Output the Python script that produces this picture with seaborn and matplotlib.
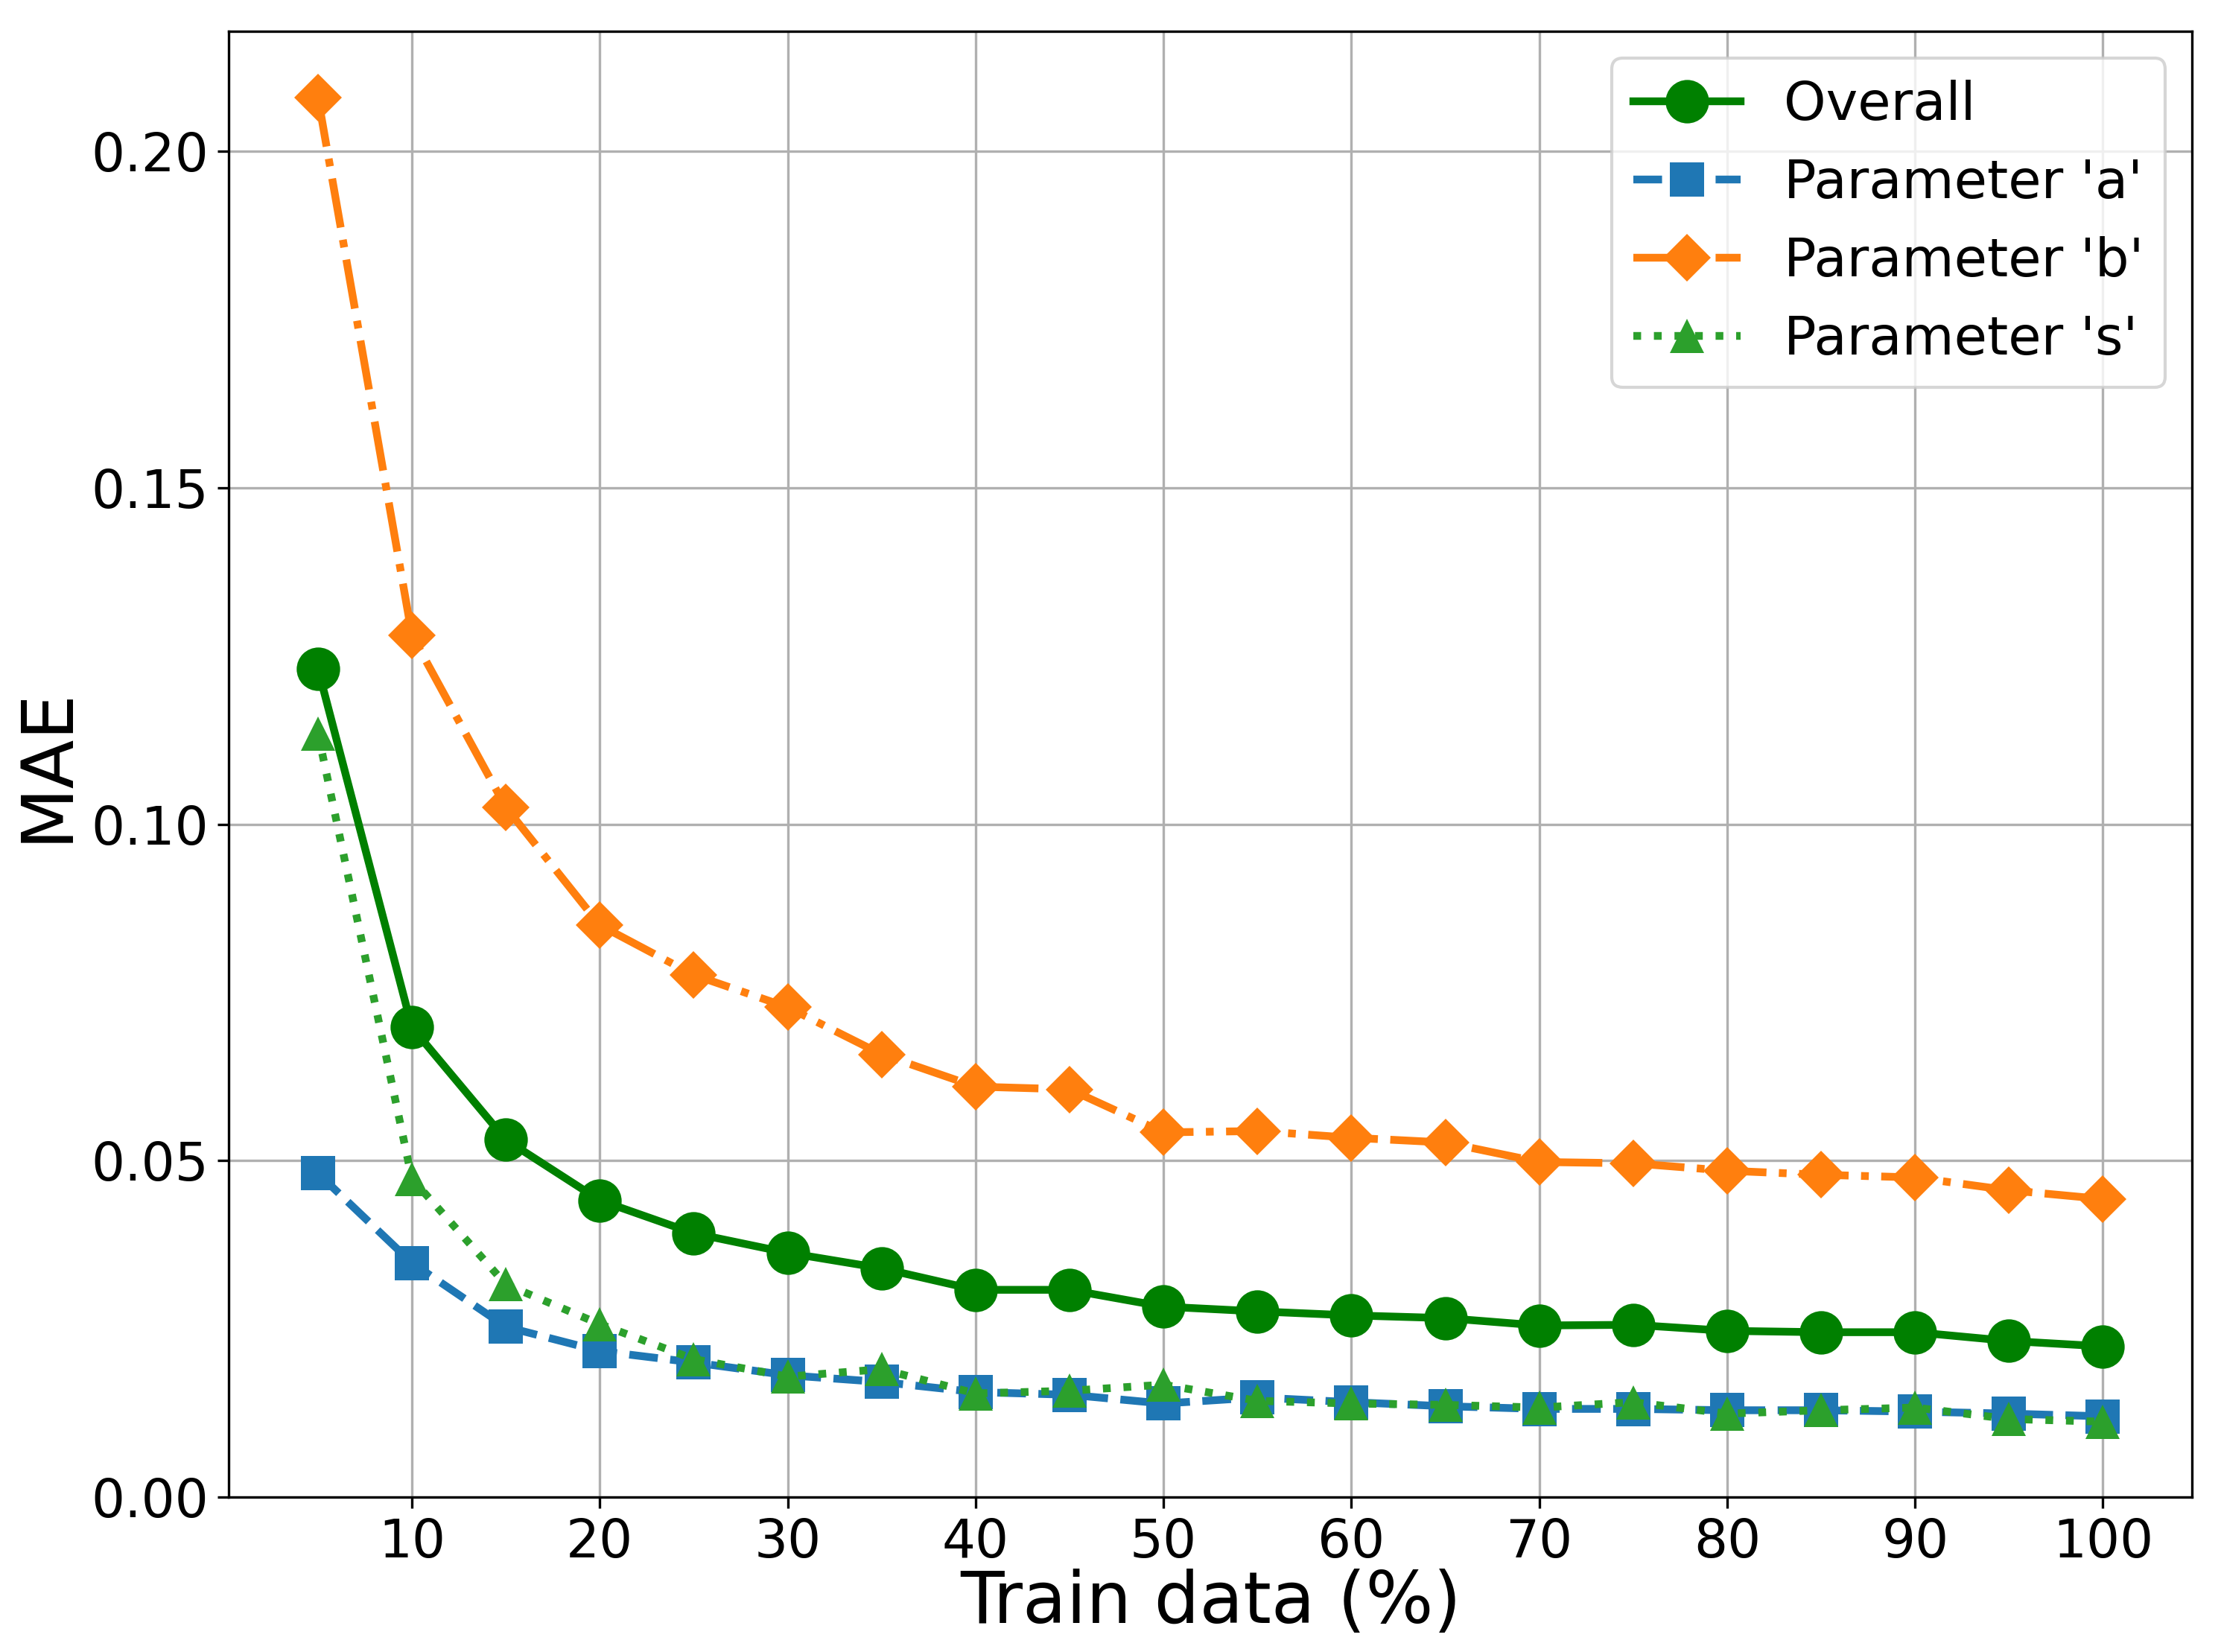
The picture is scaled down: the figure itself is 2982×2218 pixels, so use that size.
import matplotlib
matplotlib.use("Agg")
import matplotlib.pyplot as plt
import seaborn as sns
import pandas as pd

train_pct = [5, 10, 15, 20, 25, 30, 35, 40, 45, 50, 55, 60, 65, 70, 75, 80, 85, 90, 95, 100]
overall = [0.1231, 0.0698, 0.0531, 0.0441, 0.0392, 0.0363, 0.0340, 0.0308, 0.0308, 0.0283,
           0.0276, 0.0270, 0.0266, 0.0255, 0.0256, 0.0247, 0.0245, 0.0245, 0.0232, 0.0224]
param_a = [0.0481, 0.0348, 0.0253, 0.0217, 0.0200, 0.0181, 0.0171, 0.0156, 0.0152, 0.0139,
           0.0148, 0.0141, 0.0135, 0.0131, 0.0131, 0.0129, 0.0129, 0.0127, 0.0124, 0.0120]
param_b = [0.2080, 0.1281, 0.1025, 0.0850, 0.0776, 0.0728, 0.0658, 0.0610, 0.0606, 0.0542,
           0.0544, 0.0534, 0.0527, 0.0498, 0.0496, 0.0485, 0.0479, 0.0475, 0.0456, 0.0443]
param_s = [0.1135, 0.0473, 0.0316, 0.0257, 0.0205, 0.0179, 0.0190, 0.0154, 0.0158, 0.0167,
           0.0143, 0.0139, 0.0137, 0.0133, 0.0141, 0.0124, 0.0129, 0.0133, 0.0116, 0.0112]

series_labels = ["Overall", "Parameter 'a'", "Parameter 'b'", "Parameter 's'"]
series_values = [overall, param_a, param_b, param_s]
styles = [
    dict(color="green", linestyle="-", marker="o", markersize=14),
    dict(color="#1f77b4", linestyle="--", marker="s", markersize=11),
    dict(color="#ff7f0e", linestyle="-.", marker="D", markersize=11),
    dict(color="#2ca02c", linestyle=":", marker="^", markersize=11),
]

plt.rcParams['font.family'] = ['DejaVu Sans']

fig = plt.figure(figsize=(2982 / 300, 2218 / 300), dpi=300)
ax = fig.add_axes([0.103, 0.0938, 0.987 - 0.103, 0.981 - 0.0938])

for label, vals, st in zip(series_labels, series_values, styles):
    df = pd.DataFrame({"x": train_pct, "y": vals})
    sns.lineplot(data=df, x="x", y="y", ax=ax, label=label, linewidth=2.5,
                 markeredgewidth=0, **st)

ax.set_ylim(bottom=0)
ax.set_xticks([10, 20, 30, 40, 50, 60, 70, 80, 90, 100])
ax.set_yticks([0.0, 0.05, 0.10, 0.15, 0.20])
ax.set_yticklabels(["0.00", "0.05", "0.10", "0.15", "0.20"])
ax.tick_params(axis="both", labelsize=17, pad=3)
ax.set_xlabel("Train data (%)", fontsize=23, labelpad=0)
ax.set_ylabel("MAE", fontsize=23, labelpad=3)
ax.grid(True, color="#b0b0b0", linewidth=0.8)
ax.legend(loc="upper right", fontsize=17.3)

fig.savefig("out.png", dpi=300)
